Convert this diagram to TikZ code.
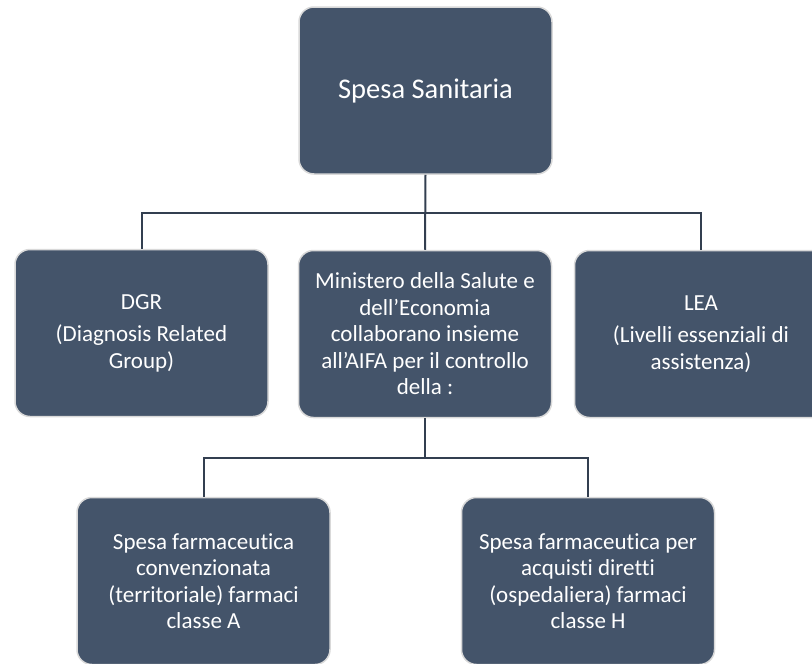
\documentclass[tikz,border=0pt]{standalone}
\usepackage{fontspec}
\setmainfont{Carlito}[Ligatures=NoCommon]
\definecolor{boxfill}{HTML}{44546A}
\definecolor{boxline}{HTML}{D9D9D9}
\definecolor{wire}{HTML}{333F50}
\tikzset{
  unit/.style={draw=boxline, line width=1.5pt, fill=boxfill, rounded corners=15pt,
    minimum width=253pt, minimum height=167pt, inner sep=0pt, align=center,
    text=white, font=\fontsize{23}{26.5}\selectfont},
  wireline/.style={draw=wire, line width=2pt}
}
\begin{document}
\begin{tikzpicture}[x=1pt,y=-1pt]
    \useasboundingbox (0,0) rectangle (812,664);
    \begin{scope}
        \clip (0,0) rectangle (812,664);
        % top level
        \node[unit, font=\fontsize{28.5}{32}\selectfont] (spesa) at (425.5,90.5) {Spesa Sanitaria};
        % second level
        \node[unit] (dgr) at (141.5,333) {DGR\\[6pt] (Diagnosis Related\\ Group)};
        \node[unit] (ministero) at (425,334) {Ministero della Salute e\\ dell'Economia\\ collaborano insieme\\ all'AIFA per il controllo\\ della :};
        \node[unit] (lea) at (701,334) {LEA\\[6pt] (Livelli essenziali di\\ assistenza)};
        % third level
        \node[unit] (farmA) at (203.5,581) {Spesa farmaceutica\\ convenzionata\\ (territoriale) farmaci\\ classe A};
        \node[unit] (farmH) at (588,581) {Spesa farmaceutica per\\ acquisti diretti\\ (ospedaliera) farmaci\\ classe H};
    \end{scope}
    % connectors
    \coordinate (busA) at (425,213);
    \coordinate (busB) at (425,458);
    \draw[wireline] (spesa.south) -- (ministero.north);
    \draw[wireline] (dgr.north) |- (busA) -| (lea.north);
    \draw[wireline] (ministero.south) -- (busB);
    \draw[wireline] (farmA.north) |- (busB) -| (farmH.north);
\end{tikzpicture}
\end{document}
